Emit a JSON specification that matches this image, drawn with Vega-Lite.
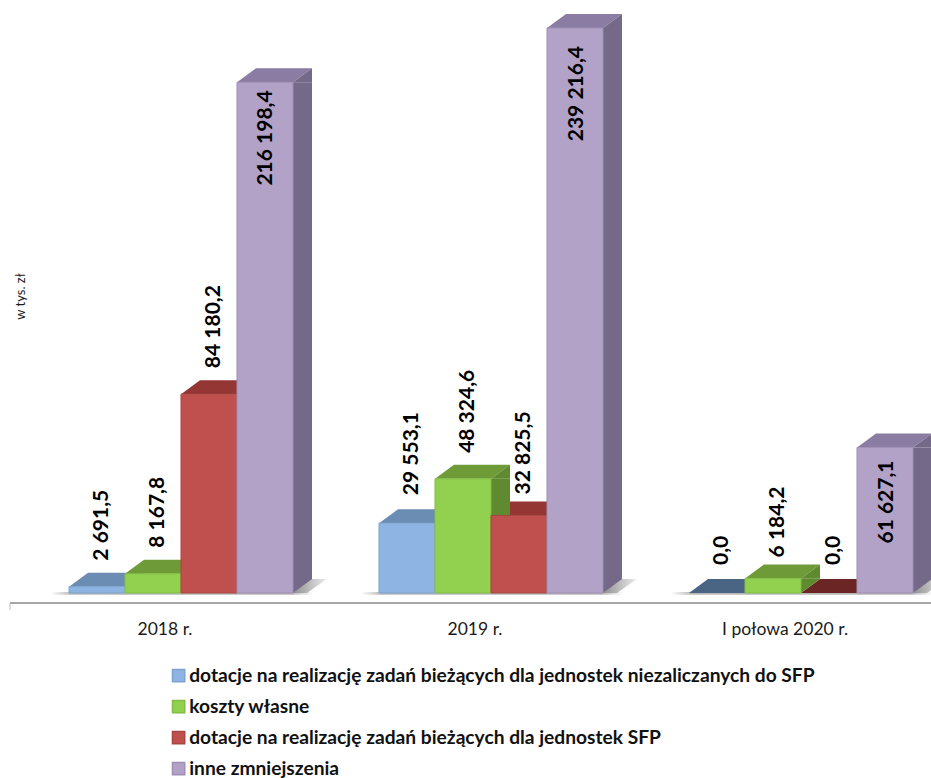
{
"$schema":"https://vega.github.io/schema/vega-lite/v6.json",
"width":921,"height":603,"autosize":{"type":"none"},
"padding":{"left":10,"top":0,"right":0,"bottom":175},
"background":"white",
"data":{"values":[
{"okres":"2018 r.","seria":"dotacje na realizację zadań bieżących dla jednostek niezaliczanych do SFP","value":2691.5,"label":"2 691,5"},
{"okres":"2018 r.","seria":"koszty własne","value":8167.8,"label":"8 167,8"},
{"okres":"2018 r.","seria":"dotacje na realizację zadań bieżących dla jednostek  SFP","value":84180.2,"label":"84 180,2"},
{"okres":"2018 r.","seria":"inne zmniejszenia","value":216198.4,"label":"216 198,4"},
{"okres":"2019 r.","seria":"dotacje na realizację zadań bieżących dla jednostek niezaliczanych do SFP","value":29553.1,"label":"29 553,1"},
{"okres":"2019 r.","seria":"koszty własne","value":48324.6,"label":"48 324,6"},
{"okres":"2019 r.","seria":"dotacje na realizację zadań bieżących dla jednostek  SFP","value":32825.5,"label":"32 825,5"},
{"okres":"2019 r.","seria":"inne zmniejszenia","value":239216.4,"label":"239 216,4"},
{"okres":"I połowa 2020 r.","seria":"dotacje na realizację zadań bieżących dla jednostek niezaliczanych do SFP","value":0,"label":"0,0"},
{"okres":"I połowa 2020 r.","seria":"koszty własne","value":6184.2,"label":"6 184,2"},
{"okres":"I połowa 2020 r.","seria":"dotacje na realizację zadań bieżących dla jednostek  SFP","value":0,"label":"0,0"},
{"okres":"I połowa 2020 r.","seria":"inne zmniejszenia","value":61627.1,"label":"61 627,1"}
]},
"encoding":{
"x":{"field":"okres","type":"nominal","sort":["2018 r.","2019 r.","I połowa 2020 r."],"title":null,
"scale":{"range":[16,946],"paddingInner":0.2774,"paddingOuter":0.1387},
"axis":{"domain":false,"ticks":false,"labelAngle":0,"labelFont":"Lato","labelFontSize":17.5,"labelColor":"#1a1a1a","labelPadding":17,"labelLimit":300,"labelOffset":-16}},
"y":{"field":"value","type":"quantitative","stack":null,"title":"w tys. zł",
"scale":{"domain":[-4234,251058],"nice":false,"zero":false},
"axis":{"domain":false,"ticks":false,"labels":false,"grid":false,"titleFont":"Lato","titleFontWeight":"normal","titleFontSize":13,"titleColor":"#1a1a1a","titleX":17,"titleY":296,"titleAngle":270,"titleAlign":"center"}},
"xOffset":{"field":"seria","type":"nominal","sort":null,"scale":{"type":"band","range":[0,224],"paddingInner":0,"paddingOuter":0}}
},
"layer":[
{"transform":[{"filter":"datum.seria=='koszty własne'"}],"mark":{"type":"rule","color":"#a6a6a6","strokeWidth":2},"encoding":{"x":null,"xOffset":null,"y":{"datum":-4234}}},
{"transform":[{"filter":"datum.okres=='2018 r.' && datum.seria=='koszty własne'"}],"mark":{"type":"rule","color":"#bdbdbd","strokeWidth":1,"xOffset":-59},"encoding":{"xOffset":null,"x":{"field":"okres","type":"nominal","bandPosition":0,"sort":["2018 r.","2019 r.","I połowa 2020 r."]},"y":{"datum":-4234},"y2":{"datum":-7200}}},
{"transform":[{"filter":"datum.seria=='koszty własne'"}],"mark":{"type":"bar","width":262,"xOffset":1,"fill":{"x1":0,"x2":1,"y1":0,"y2":0,"gradient":"linear","stops":[{"offset":0,"color":"#ffffff"},{"offset":0.08,"color":"#b8b8b8"},{"offset":0.92,"color":"#b8b8b8"},{"offset":1,"color":"#ffffff"}]}},"encoding":{"xOffset":null,"y":{"datum":400},"y2":{"datum":-700}}},
{"transform":[{"filter":"datum.seria=='koszty własne'"}],"mark":{"type":"point","filled":true,"size":4,"opacity":1,"stroke":null,"shape":"M112,0 L128,-14 L146,-14 L126,0 Z","fill":{"x1":0,"x2":1,"y1":0,"y2":0,"gradient":"linear","stops":[{"offset":0,"color":"#8f8f8f"},{"offset":1,"color":"#eeeeee"}]}},"encoding":{"xOffset":null,"y":{"datum":0}}},
{"transform":[{"filter":"datum.value>0"}],"mark":{"type":"point","filled":true,"size":4,"opacity":1,"stroke":null,"shape":"M-28,0 L28,0 L47,-14 L-9,-14 Z"},
"encoding":{
"fill":{"field":"seria","type":"nominal","sort":null,"legend":null,"scale":{"domain":["dotacje na realizację zadań bieżących dla jednostek niezaliczanych do SFP","koszty własne","dotacje na realizację zadań bieżących dla jednostek  SFP","inne zmniejszenia"],"range":["#6b8db3","#6e9a38","#943634","#8a7ca3"]}}}},
{"transform":[{"filter":"datum.value==0"}],"mark":{"type":"point","filled":true,"size":4,"opacity":1,"stroke":null,"shape":"M-28,0 L28,0 L47,-14 L-9,-14 Z"},
"encoding":{
"fill":{"field":"seria","type":"nominal","sort":null,"legend":null,"scale":{"domain":["dotacje na realizację zadań bieżących dla jednostek niezaliczanych do SFP","koszty własne","dotacje na realizację zadań bieżących dla jednostek  SFP","inne zmniejszenia"],"range":["#4a6484","#6e9a38","#6b2525","#8a7ca3"]}}}},
{"transform":[{"filter":"datum.value>0 && datum.seria=='dotacje na realizację zadań bieżących dla jednostek niezaliczanych do SFP'"}],"mark":{"type":"rule","strokeWidth":19,"xOffset":65.5,"y2Offset":-14,"strokeCap":"butt","color":"#5f7f9f"},
"encoding":{"xOffset":null,"y2":{"datum":0},"x":{"field":"okres","type":"nominal","bandPosition":0,"sort":["2018 r.","2019 r.","I połowa 2020 r."]}}},
{"transform":[{"filter":"datum.value>0 && datum.seria=='koszty własne'"}],"mark":{"type":"rule","strokeWidth":19,"xOffset":121.5,"y2Offset":-14,"strokeCap":"butt","color":"#5f8a30"},
"encoding":{"xOffset":null,"y2":{"datum":0},"x":{"field":"okres","type":"nominal","bandPosition":0,"sort":["2018 r.","2019 r.","I połowa 2020 r."]}}},
{"transform":[{"filter":"datum.value>0 && datum.seria=='dotacje na realizację zadań bieżących dla jednostek  SFP'"}],"mark":{"type":"rule","strokeWidth":19,"xOffset":177.5,"y2Offset":-14,"strokeCap":"butt","color":"#7d2c2a"},
"encoding":{"xOffset":null,"y2":{"datum":0},"x":{"field":"okres","type":"nominal","bandPosition":0,"sort":["2018 r.","2019 r.","I połowa 2020 r."]}}},
{"transform":[{"filter":"datum.value>0 && datum.seria=='inne zmniejszenia'"}],"mark":{"type":"rule","strokeWidth":19,"xOffset":233.5,"y2Offset":-14,"strokeCap":"butt","color":"#75698a"},
"encoding":{"xOffset":null,"y2":{"datum":0},"x":{"field":"okres","type":"nominal","bandPosition":0,"sort":["2018 r.","2019 r.","I połowa 2020 r."]}}},
{"transform":[{"filter":"datum.value>0"}],"mark":{"type":"point","filled":true,"size":4,"opacity":1,"stroke":null,"shape":"M28,0 L47,-14 L47,0 Z"},
"encoding":{
"fill":{"field":"seria","type":"nominal","sort":null,"legend":null,"scale":{"domain":["dotacje na realizację zadań bieżących dla jednostek niezaliczanych do SFP","koszty własne","dotacje na realizację zadań bieżących dla jednostek  SFP","inne zmniejszenia"],"range":["#5f7f9f","#5f8a30","#7d2c2a","#75698a"]}}}},
{"transform":[{"filter":"datum.value>0"}],"mark":{"type":"point","filled":true,"size":4,"opacity":1,"stroke":null,"shape":"M28,0 L28,-14 L47,-14 Z"},
"encoding":{"y":{"datum":0},
"fill":{"field":"seria","type":"nominal","sort":null,"legend":null,"scale":{"domain":["dotacje na realizację zadań bieżących dla jednostek niezaliczanych do SFP","koszty własne","dotacje na realizację zadań bieżących dla jednostek  SFP","inne zmniejszenia"],"range":["#5f7f9f","#5f8a30","#7d2c2a","#75698a"]}}}},
{"transform":[{"filter":"datum.value>0"}],"mark":{"type":"bar","strokeWidth":1,"opacity":1},
"encoding":{"y2":{"datum":0},
"color":{"field":"seria","type":"nominal","sort":null,"title":null,
"scale":{"domain":["dotacje na realizację zadań bieżących dla jednostek niezaliczanych do SFP","koszty własne","dotacje na realizację zadań bieżących dla jednostek  SFP","inne zmniejszenia"],"range":["#8db4e2","#92d050","#c0504d","#b3a2c7"]},
"legend":{"orient":"none","legendX":159,"legendY":666,"symbolType":"square","symbolSize":150,"symbolOpacity":1,"labelFont":"Lato","labelFontWeight":"bold","labelFontSize":19.2,"labelColor":"#111111","labelLimit":800,"rowPadding":11,"labelOffset":1,"padding":0,"title":null}},
"stroke":{"field":"seria","type":"nominal","sort":null,"legend":null,"scale":{"domain":["dotacje na realizację zadań bieżących dla jednostek niezaliczanych do SFP","koszty własne","dotacje na realizację zadań bieżących dla jednostek  SFP","inne zmniejszenia"],"range":["#7ea3cf","#83bd46","#a94643","#9f8fb4"]}}}},
{"transform":[{"filter":"datum.label=='2 691,5' || datum.label=='8 167,8' || datum.label=='48 324,6' || datum.label=='84 180,2'"}],"mark":{"type":"text","angle":270,"align":"left","baseline":"middle","font":"Lato","fontWeight":"bold","fontSize":21,"color":"#000000","yOffset":-26,"dy":5},
"encoding":{"text":{"field":"label"}}},
{"transform":[{"filter":"datum.label=='32 825,5' || datum.label=='6 184,2'"}],"mark":{"type":"text","angle":270,"align":"left","baseline":"middle","font":"Lato","fontWeight":"bold","fontSize":21,"color":"#000000","yOffset":-21,"dy":5},
"encoding":{"text":{"field":"label"}}},
{"transform":[{"filter":"datum.label=='29 553,1' || datum.label=='0,0'"}],"mark":{"type":"text","angle":270,"align":"left","baseline":"middle","font":"Lato","fontWeight":"bold","fontSize":21,"color":"#000000","yOffset":-28,"dy":5},
"encoding":{"text":{"field":"label"}}},
{"transform":[{"filter":"datum.label=='216 198,4'"}],"mark":{"type":"text","angle":270,"align":"right","baseline":"middle","font":"Lato","fontWeight":"bold","fontSize":21,"color":"#000000","yOffset":8,"dy":1},
"encoding":{"text":{"field":"label"}}},
{"transform":[{"filter":"datum.label=='239 216,4'"}],"mark":{"type":"text","angle":270,"align":"right","baseline":"middle","font":"Lato","fontWeight":"bold","fontSize":21,"color":"#000000","yOffset":18,"dy":2},
"encoding":{"text":{"field":"label"}}},
{"transform":[{"filter":"datum.label=='61 627,1'"}],"mark":{"type":"text","angle":270,"align":"right","baseline":"middle","font":"Lato","fontWeight":"bold","fontSize":21,"color":"#000000","yOffset":13,"dy":2},
"encoding":{"text":{"field":"label"}}}
],
"resolve":{"scale":{"fill":"independent","color":"independent","stroke":"independent"}},
"config":{"view":{"stroke":null}}
}
